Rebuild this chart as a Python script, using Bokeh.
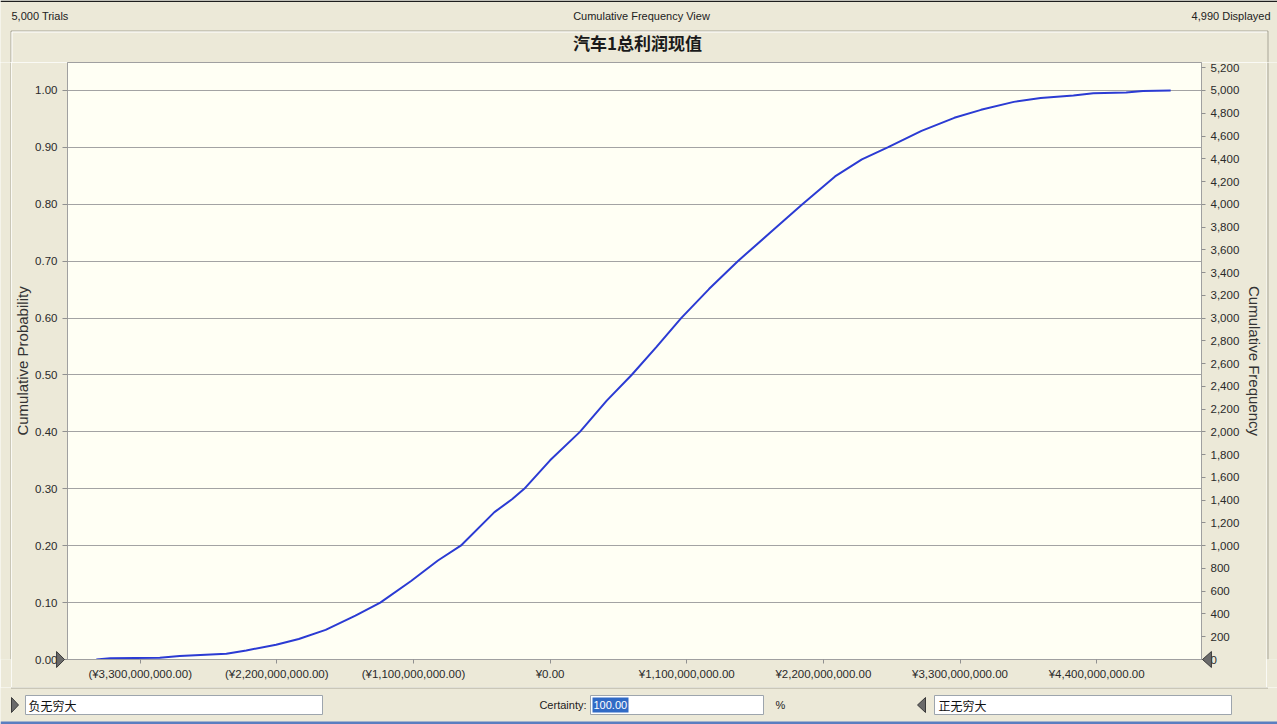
from bokeh.plotting import figure
from bokeh.layouts import column, row
from bokeh.models import Range1d, LinearAxis, FixedTicker, NumeralTickFormatter
from bokeh.core.properties import value
from bokeh.embed import file_html
from bokeh.resources import INLINE

# ---------------- data ----------------
# forecast value (billions of yuan) and cumulative probability
profit_bn = [-3.653, -3.541, -3.142, -2.982, -2.606, -2.446, -2.206, -2.023, -1.807,
             -1.567, -1.367, -1.119, -0.903, -0.719, -0.448, -0.304, -0.208, 0.000,
             0.240, 0.456, 0.656, 0.855, 1.055, 1.279, 1.511, 1.791, 2.031, 2.294,
             2.510, 2.718, 2.990, 3.254, 3.469, 3.733, 3.949, 4.213, 4.373, 4.637,
             4.773, 4.996]
cum_prob = [0.000, 0.002, 0.003, 0.006, 0.010, 0.016, 0.026, 0.036, 0.052,
            0.077, 0.100, 0.138, 0.174, 0.200, 0.259, 0.282, 0.300, 0.350,
            0.400, 0.455, 0.500, 0.549, 0.600, 0.651, 0.700, 0.754, 0.800, 0.849,
            0.879, 0.900, 0.929, 0.952, 0.966, 0.980, 0.987, 0.991, 0.995, 0.9965,
            0.999, 1.000]

prob_ticks = [0.0, 0.1, 0.2, 0.3, 0.4, 0.5, 0.6, 0.7, 0.8, 0.9, 1.0]
freq_ticks = [0, 200, 400, 600, 800, 1000, 1200, 1400, 1600, 1800, 2000, 2200, 2400,
              2600, 2800, 3000, 3200, 3400, 3600, 3800, 4000, 4200, 4400, 4600, 4800,
              5000, 5200]
x_ticks = [-3.3e9, -2.2e9, -1.1e9, 0.0, 1.1e9, 2.2e9, 3.3e9, 4.4e9]
x_tick_labels = ["(¥3,300,000,000.00)", "(¥2,200,000,000.00)", "(¥1,100,000,000.00)",
                 "¥0.00", "¥1,100,000,000.00", "¥2,200,000,000.00",
                 "¥3,300,000,000.00", "¥4,400,000,000.00"]

trials_text = "5,000 Trials"
view_text = "Cumulative Frequency View"
displayed_text = "4,990 Displayed"
title_text = "汽车1总利润现值"
left_bound_text = "负无穷大"
right_bound_text = "正无穷大"
certainty_label = "Certainty:"
certainty_text = "100.00"
total_trials = 5000

# ---------------- styling ----------------
BG = "#ECE9D8"
FONT = "Liberation Sans"
CJK = "Noto Sans CJK SC"
FRAME = "#A8A597"
W = 1277


def chrome(width, height, y_top, y_bottom):
    """A plain figure whose frame fills the whole canvas, y measured downward."""
    f = figure(width=width, height=height, output_backend="svg", toolbar_location=None,
               x_range=Range1d(0, width), y_range=Range1d(y_bottom, y_top),
               x_axis_type=None, y_axis_type=None, min_border=0,
               outline_line_color=None, background_fill_color=BG,
               border_fill_color=BG, title=None)
    f.grid.visible = False
    return f


def txt(f, x, y, s, align="left", size="11px", color="#222222", font=FONT, style="normal"):
    f.text(x=[x], y=[y], text=[s], text_align=align, text_baseline="middle",
           text_font=value(font), text_font_size=size, text_color=color,
           text_font_style=style)


def seg(f, x0, y0, x1, y1, color=FRAME, w=1):
    f.segment(x0=[x0], y0=[y0], x1=[x1], y1=[y1], line_color=color, line_width=w)


def box(f, l, t, r, b, fill="#FFFFFF", line="#9DA5AD"):
    f.quad(left=[l], right=[r], top=[t], bottom=[b], fill_color=fill,
           line_color=line)


def tri(f, xs, ys, color="#6A6A6A", **kw):
    f.patch(xs, ys, fill_color=color, line_color="#3A3A3A", line_width=1, **kw)


# ---------------- header ----------------
hdr = chrome(W, 62, 0, 62)
hdr.quad(left=[0], right=[W], top=[0], bottom=[1.5], fill_color="#1E1E1E", line_color=None)
txt(hdr, 11, 15, trials_text)
txt(hdr, 641, 15, view_text, align="center")
txt(hdr, 1270, 15, displayed_text, align="right")
seg(hdr, 10.5, 30.5, 1267.5, 30.5)
seg(hdr, 11.5, 31.5, 1266.5, 31.5, color="#FFFFFF")
seg(hdr, 10.5, 30.5, 10.5, 62)
seg(hdr, 11.5, 31.5, 11.5, 62, color="#FFFFFF")
seg(hdr, 1267.5, 30.5, 1267.5, 62)
txt(hdr, 637, 42, title_text, align="center", size="17px", color="#1A1A1A",
    font=CJK, style="bold")

# ---------------- side strips ----------------
lstrip = chrome(11, 625, 62, 687)
seg(lstrip, 10.5, 62, 10.5, 687)
rstrip = chrome(11, 625, 62, 687)
seg(rstrip, 1.5, 62, 1.5, 687)

# ---------------- main chart ----------------
x_vals = [v * 1e9 for v in profit_bn]
X0, X1 = -3.885e9, 5.244e9
Y1 = 1.0492
FW, FH = 1142, 597

p = figure(width=1255, height=625, output_backend="svg", toolbar_location=None,
           x_range=Range1d(X0, X1), y_range=Range1d(0, Y1),
           min_border_left=56, min_border_right=57, min_border_top=0,
           min_border_bottom=28, background_fill_color="#FFFFF4",
           border_fill_color=BG, outline_line_color="#A0A0A0", title=None)

p.extra_y_ranges = {"freq": Range1d(0, Y1 * total_trials)}

lax = p.yaxis[0]
lax.ticker = FixedTicker(ticks=prob_ticks)
lax.formatter = NumeralTickFormatter(format="0.00")
lax.axis_label = "Cumulative Probability"

bax = p.xaxis[0]
bax.ticker = FixedTicker(ticks=x_ticks)
bax.major_label_overrides = {t: s for t, s in zip(x_ticks, x_tick_labels)}

rax = LinearAxis(y_range_name="freq", ticker=FixedTicker(ticks=freq_ticks),
                 formatter=NumeralTickFormatter(format="0,0"),
                 axis_label="Cumulative Frequency")
p.add_layout(rax, "right")

for ax in (lax, bax, rax):
    ax.major_label_text_font = FONT
    ax.major_label_text_font_size = "11.5px"
    ax.major_label_text_color = "#2A2A2A"
    ax.axis_label_text_font = FONT
    ax.axis_label_text_font_size = "15px"
    ax.axis_label_text_font_style = "normal"
    ax.axis_label_text_color = "#333333"
    ax.minor_tick_line_color = None
    ax.major_tick_in = 0
    ax.major_tick_line_color = "#909090"
    ax.axis_line_color = "#A0A0A0"

lax.major_tick_out = 5
lax.major_label_standoff = 5
lax.axis_label_standoff = 1
rax.major_tick_out = 4
rax.major_label_standoff = 5
rax.axis_label_standoff = 4
bax.major_tick_out = 4
bax.major_label_standoff = 4

p.xgrid.grid_line_color = None
p.ygrid.ticker = FixedTicker(ticks=prob_ticks)
p.ygrid.grid_line_color = "#A3A3A3"
p.ygrid.grid_line_width = 1

p.line(x_vals, cum_prob, line_color="#2B3BD3", line_width=2)

# bound markers (triangles) at the ends of the value axis, in pixel offsets
ux = (X1 - X0) / FW
uy = Y1 / FH
tri(p, [X0 - 11 * ux, X0 - 11 * ux, X0 - 3 * ux], [-8 * uy, 8 * uy, 0], level="overlay")
tri(p, [X1 + 10 * ux, X1 + 10 * ux, X1 + 1 * ux], [-8 * uy, 8 * uy, 0], level="overlay")

# ---------------- footer ----------------
ftr = chrome(W, 37, 687, 724)
seg(ftr, 10.5, 687.5, 1267.5, 687.5)
tri(ftr, [11, 11, 18], [697, 712, 704.5])
box(ftr, 25, 695, 322, 714)
txt(ftr, 28, 704.5, left_bound_text, size="12px", font=CJK, color="#111111")
txt(ftr, 586, 704.5, certainty_label, align="right")
box(ftr, 590, 695, 763, 714)
box(ftr, 592, 697, 628, 712, fill="#316AC5", line=None)
txt(ftr, 593, 704.5, certainty_text, color="#FFFFFF")
txt(ftr, 775, 704.5, "%")
tri(ftr, [925, 925, 917], [697, 712, 704.5])
box(ftr, 934, 695, 1231, 714)
txt(ftr, 938, 704.5, right_bound_text, size="12px", font=CJK, color="#111111")
ftr.quad(left=[0], right=[W], top=[721], bottom=[724], fill_color="#5A7EC0", line_color=None)

layout = column(hdr, row(lstrip, p, rstrip), ftr)
open("out.html", "w").write(file_html(layout, INLINE))
